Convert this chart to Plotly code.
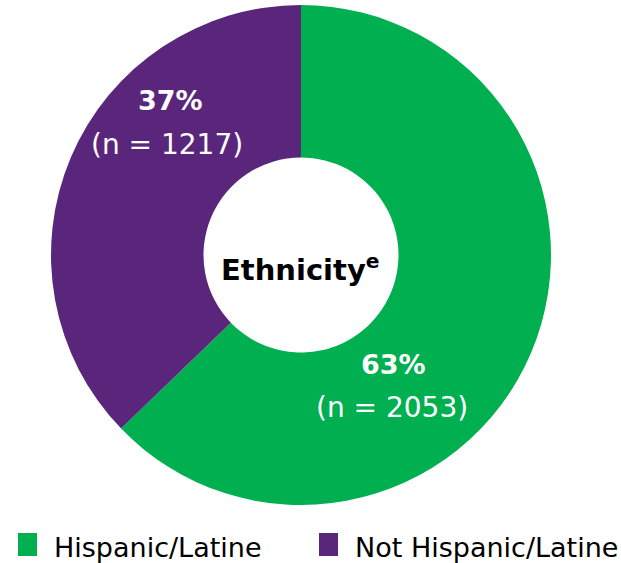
import plotly.graph_objects as go

labels = ["Hispanic/Latine", "Not Hispanic/Latine"]
values = [2053, 1217]
colors = ["#00B050", "#59267C"]
center_title = "Ethnicity"

W, H = 621, 563
total = sum(values)
pcts = [round(100 * v / total) for v in values]

fig = go.Figure(go.Pie(
    labels=labels, values=values, hole=0.39, sort=False, direction="clockwise",
    rotation=0, marker=dict(colors=colors, line=dict(width=0)),
    textinfo="none", showlegend=False, hoverinfo="label+value+percent",
    domain=dict(x=[51 / W, 551 / W], y=[1 - 505 / H, 1 - 5 / H]),
))

font = "'DejaVu Sans', Verdana, sans-serif"
# slice label anchor points (pixels from top-left)
label_pos = [(393, 364, 392, 407), (170, 100, 167, 144)]
ann = []
for (px, py, nx, ny), p, v in zip(label_pos, pcts, values):
    ann.append(dict(x=px / W, y=1 - py / H, xref="paper", yref="paper", showarrow=False,
                    xanchor="center", yanchor="middle",
                    text=f"<b>{p}%</b>", font=dict(family=font, size=27, color="white")))
    ann.append(dict(x=nx / W, y=1 - ny / H, xref="paper", yref="paper", showarrow=False,
                    xanchor="center", yanchor="middle",
                    text=f"(n = {v})", font=dict(family=font, size=28, color="white")))
ann.append(dict(x=300 / W, y=1 - 268 / H, xref="paper", yref="paper", showarrow=False,
                xanchor="center", yanchor="middle",
                text=f"<b>{center_title}<sup>e</sup></b>", font=dict(family=font, size=29, color="black")))

# legend
shapes = []
leg_x = [18, 319]
for lx, lab, col in zip(leg_x, labels, colors):
    shapes.append(dict(type="rect", xref="paper", yref="paper", x0=lx / W, x1=(lx + 19) / W,
                       y0=1 - 556 / H, y1=1 - 533 / H, fillcolor=col, line=dict(width=0)))
    ann.append(dict(x=(lx + 34) / W, y=1 - 547 / H, xref="paper", yref="paper", showarrow=False,
                    xanchor="left", yanchor="middle",
                    text=lab, font=dict(family=font, size=27, color="black")))

fig.update_layout(width=W, height=H, margin=dict(l=0, r=0, t=0, b=0),
                  paper_bgcolor="white", plot_bgcolor="white",
                  annotations=ann, shapes=shapes)
fig.write_html("out.html", config={"displayModeBar": False},
               post_script="document.body.style.margin='0px';")
